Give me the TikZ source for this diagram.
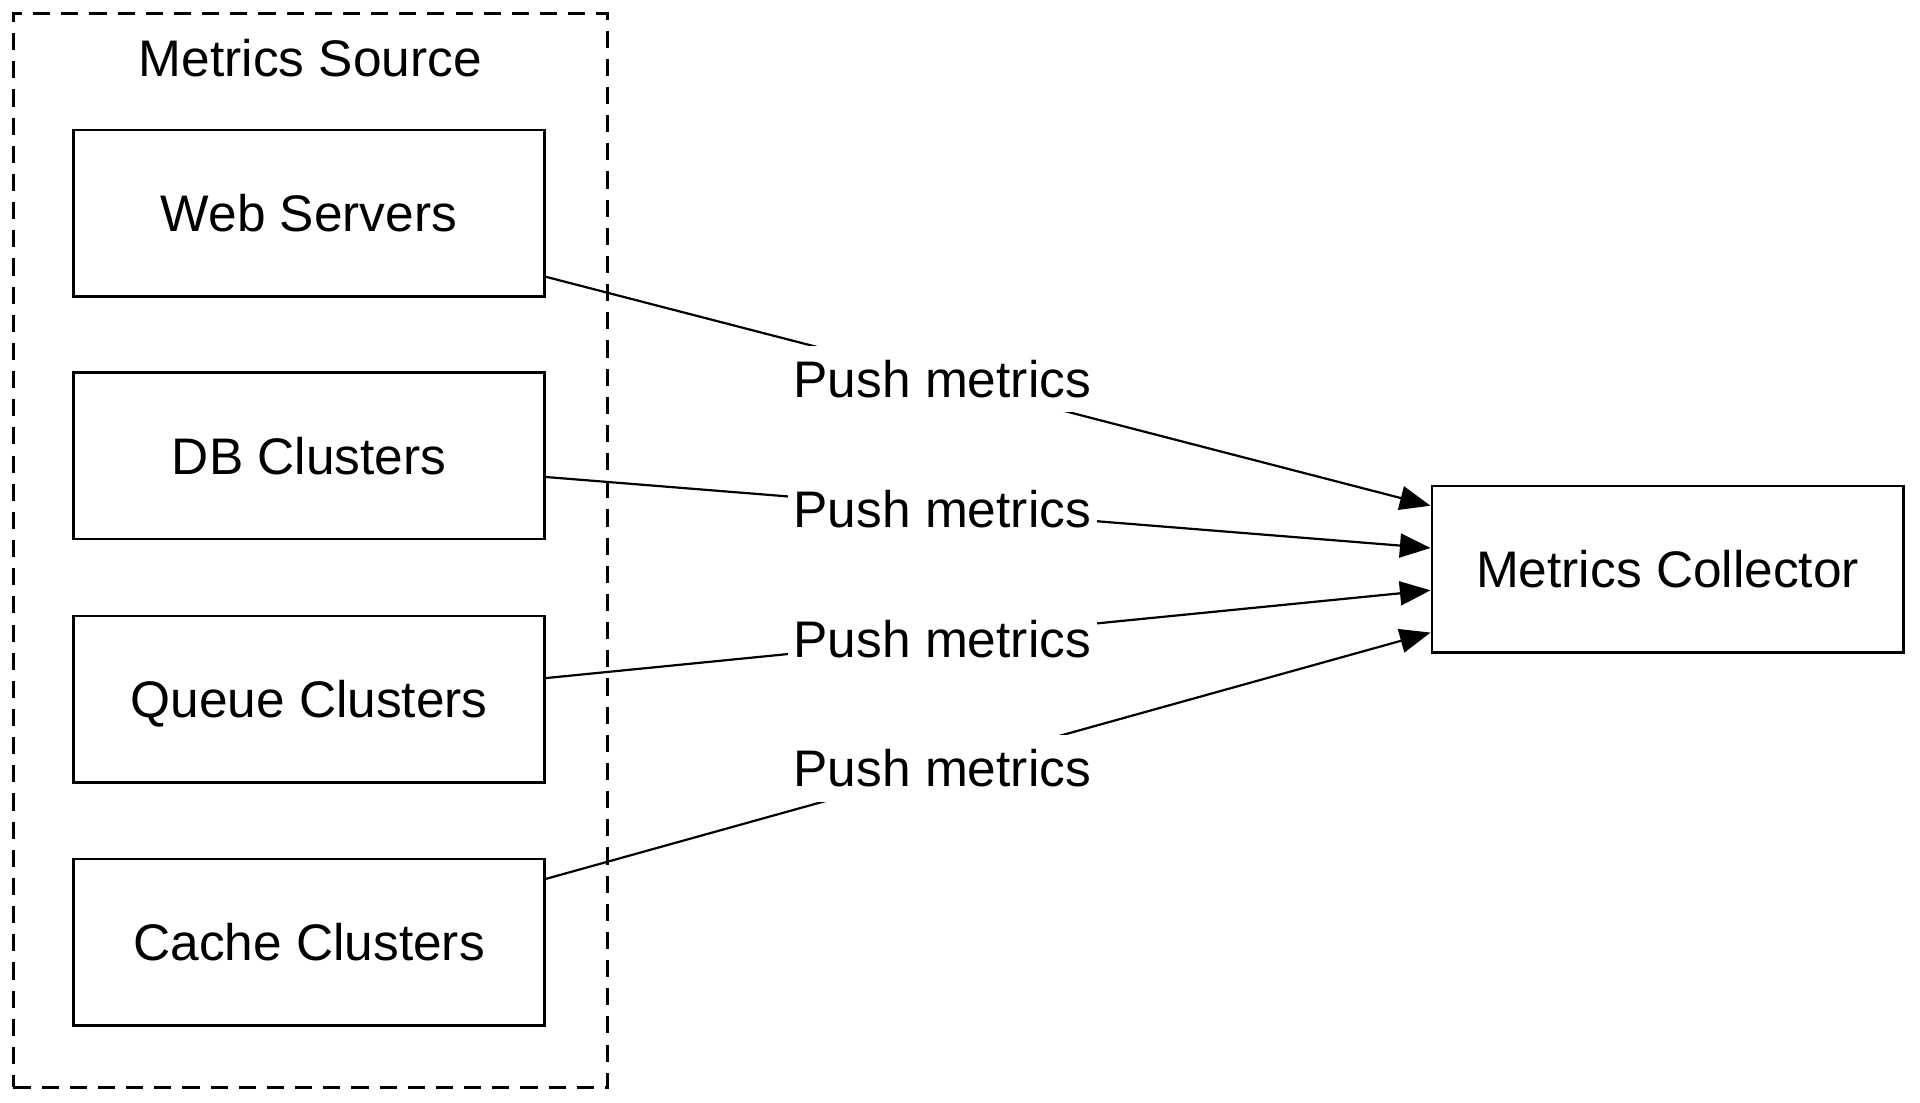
\documentclass[tikz,border=0pt]{standalone}
\usepackage{fontspec}
\setmainfont{Liberation Sans}
\usetikzlibrary{arrows.meta,calc}
\begin{document}
\begin{tikzpicture}[x=0.5pt,y=-0.5pt,
  txt/.style={font=\fontsize{21}{25}\selectfont},
  srcbox/.style={draw, line width=1.05pt, minimum width=192.5pt, minimum height=68pt,
    inner sep=0pt, txt, text height=15pt, text depth=0pt},
  groupbox/.style={draw, line width=1pt, dash pattern=on 7pt off 4.5pt,
    minimum width=242.5pt, minimum height=438.5pt, inner sep=0pt},
  edge/.style={line width=0.9pt, -{Triangle[length=12.5pt,width=9.8pt]}},
  lbl/.style={fill=white, txt, inner xsep=2.5pt, inner ysep=3.5pt,
    text height=17.5pt, text depth=2.5pt, pos=0.448}]
\useasboundingbox (0,0) rectangle (1568,900);
\node[groupbox] (grp) at (253.5,449.5) {};
\node[txt, anchor=base] (title) at (253.5,62.5) {Metrics Source};
\node[srcbox] (web) at (252.4,174.3) {Web Servers};
\node[srcbox] (db) at (252.4,372.3) {DB Clusters};
\node[srcbox] (queue) at (252.4,571) {Queue Clusters};
\node[srcbox] (cache) at (252.4,769.5) {Cache Clusters};
\node[srcbox] (col) at (1361.8,464.8) {Metrics Collector};
\coordinate (s1) at ($(web.north east)!0.875!(web.south east)$);
\coordinate (s2) at ($(db.north east)!0.625!(db.south east)$);
\coordinate (s3) at ($(queue.north east)!0.375!(queue.south east)$);
\coordinate (s4) at ($(cache.north east)!0.125!(cache.south east)$);
\coordinate (t1) at ($(col.north west)!0.125!(col.south west)$);
\coordinate (t2) at ($(col.north west)!0.375!(col.south west)$);
\coordinate (t3) at ($(col.north west)!0.625!(col.south west)$);
\coordinate (t4) at ($(col.north west)!0.875!(col.south west)$);
\draw[edge] (s1) -- node[lbl] (l1) {Push metrics} (t1);
\draw[edge] (s2) -- node[lbl] (l2) {Push metrics} (t2);
\draw[edge] (s3) -- node[lbl] (l3) {Push metrics} (t3);
\draw[edge] (s4) -- node[lbl] (l4) {Push metrics} (t4);
\end{tikzpicture}
\end{document}
